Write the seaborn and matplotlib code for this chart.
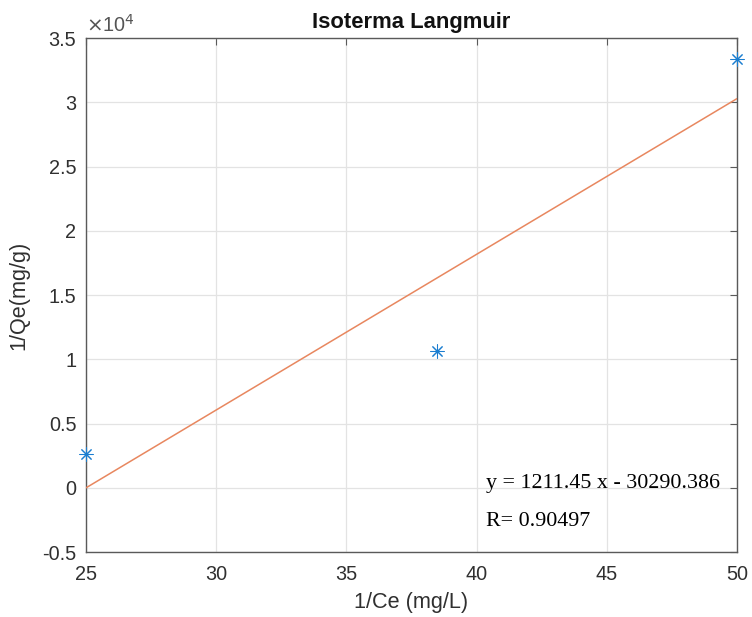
import matplotlib
matplotlib.use("Agg")
import matplotlib.pyplot as plt
import seaborn as sns
import pandas as pd
import numpy as np
from matplotlib.ticker import FuncFormatter

# Inverse concentrations (1/Ce) and inverse uptakes (1/Qe)
inv_ce = [25.0, 38.4615, 50.0]
inv_qe = [2600.0, 10650.0, 33333.0]

# Linear fit reported on the chart
slope = 1211.45
intercept = -30290.386
r_value = 0.90497

x_ticks = [25, 30, 35, 40, 45, 50]
y_ticks = [-5000, 0, 5000, 10000, 15000, 20000, 25000, 30000, 35000]

sns.set_theme(style="white")
plt.rcParams["font.family"] = ["Liberation Sans", "DejaVu Sans"]

axis_gray = "#303030"
point_blue = "#1B7ED0"
line_orange = "#E8875F"

fig = plt.figure(figsize=(7.52, 6.17), dpi=100)
ax = fig.add_axes([0.1144, 0.1053, 0.8656, 0.8331])

pts = pd.DataFrame({"x": inv_ce, "y": inv_qe})
fit_x = np.array([min(inv_ce), max(inv_ce)])
fit = pd.DataFrame({"x": fit_x, "y": slope * fit_x + intercept})

sns.lineplot(data=fit, x="x", y="y", ax=ax, color=line_orange, linewidth=1.1, zorder=3)
sns.scatterplot(data=pts, x="x", y="y", ax=ax, marker=(8, 2, 0), s=90,
                color=point_blue, edgecolor=point_blue, linewidth=0.75,
                zorder=4, clip_on=False)

ax.set_xlim(25, 50)
ax.set_ylim(-5000, 35000)
ax.set_xticks(x_ticks)
ax.set_yticks(y_ticks)
ax.yaxis.set_major_formatter(FuncFormatter(lambda v, p: f"{v / 1e4:g}"))
ax.xaxis.set_major_formatter(FuncFormatter(lambda v, p: f"{v:g}"))

ax.grid(True, color="#E3E3E3", linewidth=0.9)
ax.set_axisbelow(True)
for s in ax.spines.values():
    s.set_color("#5A5A5A")
    s.set_linewidth(1.0)
ax.tick_params(axis="both", direction="in", length=5, width=0.8, color="#5A5A5A",
               top=True, right=True, labelsize=14.3, labelcolor=axis_gray)
ax.tick_params(axis="x", pad=9)
ax.tick_params(axis="y", pad=7)

ax.set_xlabel("1/Ce (mg/L)", fontsize=15.6, color=axis_gray, labelpad=6)
ax.set_ylabel("1/Qe(mg/g)", fontsize=15.6, color=axis_gray, labelpad=9)
ax.set_title("Isoterma Langmuir", fontsize=15.8, fontweight="bold", color="#111111", pad=7)

ax.text(0.0, 1.004, r"$\times$10$^{4}$", transform=ax.transAxes, fontsize=14.3,
        color="#555555", ha="left", va="bottom")

serif = ["Liberation Serif", "DejaVu Serif"]
ax.text(40.35, 370, f"y = {slope} x - {abs(intercept)}", family=serif,
        fontsize=15.8, color="black", va="center", ha="left")
ax.text(40.35, -2600, f"R= {r_value}", family=serif,
        fontsize=15.8, color="black", va="center", ha="left")

fig.savefig("out.png", dpi=100, facecolor="white")
